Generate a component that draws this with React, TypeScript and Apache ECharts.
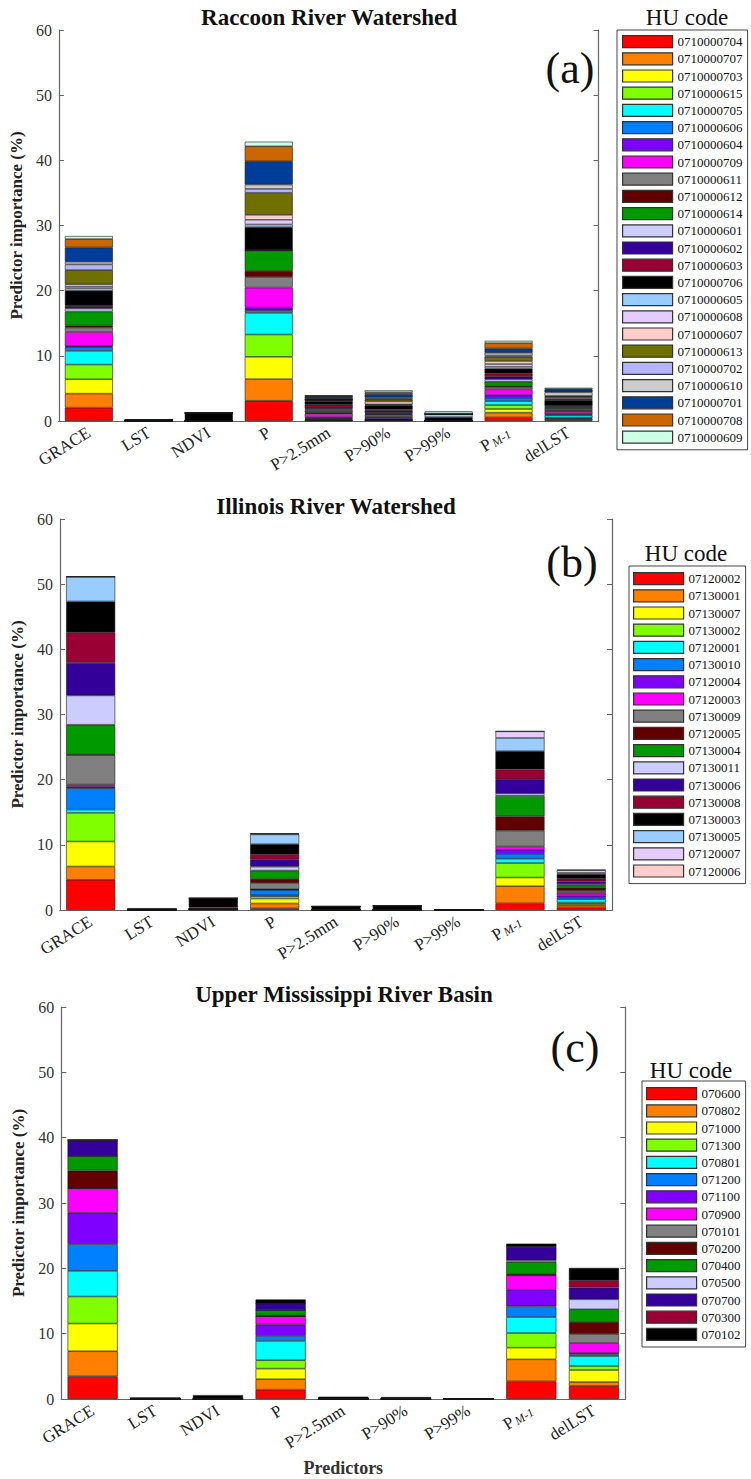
import React, { useEffect, useRef } from "react";
import * as echarts from "echarts";

const FONT = "Liberation Serif";

const CATEGORIES = ["GRACE", "LST", "NDVI", "P", "P>2.5mm", "P>90%", "P>99%", "PM-1", "delLST"];
const Y_TICKS_MAX = 60;

// ---------- Panel (a) Raccoon River Watershed ----------
const CODES_A = [
  "0710000704", "0710000707", "0710000703", "0710000615", "0710000705", "0710000606",
  "0710000604", "0710000709", "0710000611", "0710000612", "0710000614", "0710000601",
  "0710000602", "0710000603", "0710000706", "0710000605", "0710000608", "0710000607",
  "0710000613", "0710000702", "0710000610", "0710000701", "0710000708", "0710000609",
];
const A_GRACE = [2.05, 2.15, 2.2, 2.26, 2.1, 0.56, 0.15, 2.2, 0.67, 0.31, 2.15, 0.46, 0.36, 0.1, 2.26, 0.36, 0.26, 0.36, 2.2, 0.87, 0.41, 2.2, 1.28, 0.46];
const A_LST = [0, 0, 0, 0, 0, 0, 0, 0, 0.03, 0, 0, 0, 0, 0, 0.1, 0, 0, 0, 0, 0, 0.03, 0.04, 0, 0];
const A_NDVI = [0, 0, 0, 0, 0, 0, 0, 0, 0, 0, 0, 0, 0, 0, 1.2, 0, 0, 0, 0, 0, 0.05, 0.05, 0, 0];
const A_P = [3.11, 3.32, 3.42, 3.42, 3.32, 0.41, 0.41, 3.06, 1.63, 0.92, 3.16, 0.04, 0.03, 0.03, 3.47, 0.41, 0.71, 0.77, 3.37, 0.61, 0.66, 3.57, 2.3, 0.71];
const A_P25 = [0.05, 0.05, 0.05, 0.1, 0.1, 0.1, 0.15, 0.5, 0.1, 0.1, 0.3, 0.15, 0.2, 0.55, 0.55, 0.1, 0.05, 0.05, 0.05, 0.05, 0.05, 0.4, 0.05, 0.05];
const A_P90 = [0.05, 0.05, 0.05, 0.05, 0.05, 0.1, 0.2, 0.1, 0.3, 0.1, 0.1, 0.1, 0.35, 0.15, 0.6, 0.1, 0.1, 0.45, 0.3, 0.1, 0.2, 0.5, 0.3, 0.3];
const A_P99 = [0, 0, 0, 0, 0, 0, 0, 0, 0, 0, 0, 0, 0.05, 0, 0.55, 0.45, 0, 0, 0, 0, 0.05, 0.05, 0, 0.35];
const A_PM1 = [0.56, 0.72, 0.56, 0.61, 0.61, 0.51, 0.41, 0.87, 0.36, 0.2, 0.61, 0.36, 0.41, 0.51, 0.72, 0.31, 0.41, 0.46, 0.66, 0.2, 0.41, 0.66, 0.82, 0.36];
const A_DEL = [0.1, 0.2, 0.1, 0.1, 0.35, 0.15, 0.1, 0.3, 0.15, 0.15, 0.25, 0.1, 0.15, 0.1, 0.9, 0.1, 0.1, 0.25, 0.1, 0.1, 0.55, 0.4, 0.1, 0.2];
const PANEL_A = [A_GRACE, A_LST, A_NDVI, A_P, A_P25, A_P90, A_P99, A_PM1, A_DEL];

// ---------- Panel (b) Illinois River Watershed ----------
const CODES_B = [
  "07120002", "07130001", "07130007", "07130002", "07120001", "07130010",
  "07120004", "07120003", "07130009", "07120005", "07130004", "07130011",
  "07130006", "07130008", "07130003", "07130005", "07120007", "07120006",
];
const B_GRACE = [4.64, 2.04, 3.83, 4.39, 0.51, 3.27, 0.26, 0.31, 4.54, 0.05, 4.59, 4.49, 5.0, 4.69, 4.74, 3.8, 0, 0];
const B_LST = [0, 0, 0, 0, 0, 0, 0, 0, 0.03, 0.03, 0, 0, 0, 0, 0.09, 0, 0, 0];
const B_NDVI = [0, 0.1, 0, 0, 0, 0, 0, 0, 0, 0.1, 0, 0, 0, 0.2, 1.4, 0, 0, 0];
const B_P = [0.25, 0.75, 0.75, 0.35, 0.15, 0.85, 0.05, 0.05, 0.95, 0.6, 1.3, 0.6, 1.1, 0.8, 1.55, 1.5, 0.1, 0.05];
const B_P25 = [0, 0, 0, 0, 0, 0, 0, 0, 0, 0, 0, 0, 0.05, 0, 0.5, 0, 0, 0];
const B_P90 = [0, 0, 0, 0, 0, 0, 0, 0, 0, 0, 0, 0, 0.05, 0, 0.6, 0, 0, 0];
const B_P99 = [0, 0, 0, 0, 0, 0, 0, 0, 0, 0, 0, 0, 0, 0, 0.05, 0, 0, 0];
const B_PM1 = [1.02, 2.64, 1.32, 2.23, 0.66, 0.76, 0.61, 0.51, 2.44, 2.18, 3.15, 0.36, 2.18, 1.52, 2.79, 2.03, 1.02, 0];
const B_DEL = [0.4, 0.35, 0.2, 0.2, 0.5, 0.3, 0.3, 0.4, 0.3, 0.5, 0.35, 0.2, 0.4, 0.4, 0.7, 0.2, 0.4, 0.1];
const PANEL_B = [B_GRACE, B_LST, B_NDVI, B_P, B_P25, B_P90, B_P99, B_PM1, B_DEL];

// ---------- Panel (c) Upper Mississippi River Basin ----------
const CODES_C = [
  "070600", "070802", "071000", "071300", "070801", "071200", "071100", "070900",
  "070101", "070200", "070400", "070500", "070700", "070300", "070102",
];
const C_GRACE = [3.47, 3.84, 4.24, 4.14, 3.93, 4.09, 4.8, 3.73, 0, 2.71, 2.25, 0, 2.45, 0, 0];
const C_LST = [0, 0, 0, 0, 0, 0, 0, 0, 0, 0, 0, 0, 0.05, 0, 0.2];
const C_NDVI = [0, 0, 0, 0, 0, 0, 0, 0, 0, 0, 0, 0, 0.05, 0, 0.55];
const C_P = [1.43, 1.6, 1.62, 1.28, 2.96, 0.77, 1.74, 1.28, 0, 0.1, 0.82, 0, 1.02, 0, 0.61];
const C_P25 = [0, 0, 0, 0, 0, 0, 0, 0, 0, 0, 0, 0, 0.05, 0, 0.3];
const C_P90 = [0, 0, 0, 0, 0, 0, 0, 0, 0, 0, 0, 0, 0.05, 0, 0.25];
const C_P99 = [0, 0, 0, 0, 0, 0, 0, 0, 0, 0, 0, 0, 0, 0, 0.1];
const C_PM1 = [2.7, 3.37, 1.79, 2.24, 2.45, 1.63, 2.55, 2.19, 0.05, 0.2, 1.79, 0.26, 2.04, 0.05, 0.47];
const C_DEL = [1.99, 0.61, 1.84, 0.61, 1.53, 0.25, 0.21, 1.53, 1.38, 1.84, 1.94, 1.53, 1.79, 1.12, 1.89];
const PANEL_C = [C_GRACE, C_LST, C_NDVI, C_P, C_P25, C_P90, C_P99, C_PM1, C_DEL];

// ---------- styles ----------
const COLORS_A = [
  "#FF0000", "#FF8000", "#FFFF00", "#80FF00", "#00FFFF", "#0080FF",
  "#8000FF", "#FF00FF", "#808080", "#600000", "#009900", "#CCCCFF",
  "#330099", "#990033", "#000000", "#99CCFF", "#E5CCFF", "#FFCCCC",
  "#707000", "#B3B3FF", "#CCCCCC", "#003D99", "#CC6600", "#CCFFE5",
];
const COLORS_B = COLORS_A.slice(0, 18);
const COLORS_C = COLORS_A.slice(0, 15);

const PANELS = [
  {
    title: "Raccoon River Watershed", tag: "(a)", codes: CODES_A, colors: COLORS_A, values: PANEL_A,
    grid: { left: 57.5, top: 30, width: 541, height: 391 },
    titlePos: [329, 17], tagPos: [570, 68], huPos: [687, 17],
    legend: { left: 617, top: 30, padding: [5, 5, 6, 5] },
  },
  {
    title: "Illinois River Watershed", tag: "(b)", codes: CODES_B, colors: COLORS_B, values: PANEL_B,
    grid: { left: 60, top: 519, width: 552, height: 391 },
    titlePos: [336, 506], tagPos: [572, 562], huPos: [686, 553],
    legend: { left: 629, top: 566, padding: [6, 5, 6, 4] },
  },
  {
    title: "Upper Mississippi River Basin", tag: "(c)", codes: CODES_C, colors: COLORS_C, values: PANEL_C,
    grid: { left: 61.3, top: 1007, width: 564, height: 392 },
    titlePos: [344, 994], tagPos: [575, 1047], huPos: [691, 1070],
    legend: { left: 642, top: 1081, padding: [6, 5, 6, 4] },
  },
];

const AXIS_COLOR = "#666";

function buildOption() {
  const grid: any[] = [];
  const xAxis: any[] = [];
  const yAxis: any[] = [];
  const series: any[] = [];
  const legend: any[] = [];
  const graphic: any[] = [];

  PANELS.forEach((pan, pi) => {
    grid.push({ ...pan.grid, containLabel: false });
    xAxis.push({
      type: "category",
      gridIndex: pi,
      data: CATEGORIES,
      axisLine: { lineStyle: { color: AXIS_COLOR, width: 1.2 } },
      axisTick: { inside: true, alignWithLabel: true, length: 5, lineStyle: { color: AXIS_COLOR } },
      axisLabel: {
        rotate: 32,
        margin: 10,
        fontFamily: FONT,
        fontSize: 17,
        color: "#222",
        interval: 0,
        formatter: (v: string) => (v === "PM-1" ? "{p|P}{s|M-1}" : v),
        rich: {
          p: { fontFamily: FONT, fontSize: 17, color: "#222" },
          s: { fontFamily: FONT, fontSize: 12, fontStyle: "italic", color: "#222", verticalAlign: "bottom", padding: [0, 0, 0, 2] },
        },
      },
      name: pi === 2 ? "Predictors" : "",
      nameLocation: "middle",
      nameGap: 60,
      nameTextStyle: { fontFamily: FONT, fontWeight: "bold", fontSize: 18, color: "#333" },
    });
    yAxis.push({
      type: "value",
      gridIndex: pi,
      min: 0,
      max: Y_TICKS_MAX,
      interval: 10,
      axisLine: { show: true, lineStyle: { color: AXIS_COLOR, width: 1.2 } },
      axisTick: { show: true, inside: true, length: 5, lineStyle: { color: AXIS_COLOR } },
      splitLine: { show: false },
      axisLabel: { fontFamily: FONT, fontSize: 16, color: "#333", margin: 7 },
      name: "Predictor importance (%)",
      nameLocation: "middle",
      nameGap: 27,
      nameTextStyle: { fontFamily: FONT, fontWeight: "bold", fontSize: 17, color: "#222" },
    });
  });
  PANELS.forEach((pan, pi) => {
    xAxis.push({
      type: "category",
      gridIndex: pi,
      position: "top",
      data: CATEGORIES,
      axisLine: { lineStyle: { color: AXIS_COLOR, width: 1.2 } },
      axisTick: { inside: true, alignWithLabel: true, length: 5, lineStyle: { color: AXIS_COLOR } },
      axisLabel: { show: false },
    });
    yAxis.push({
      type: "value",
      gridIndex: pi,
      position: "right",
      min: 0,
      max: Y_TICKS_MAX,
      interval: 10,
      axisLine: { show: true, lineStyle: { color: AXIS_COLOR, width: 1.2 } },
      axisTick: { show: true, inside: true, length: 5, lineStyle: { color: AXIS_COLOR } },
      splitLine: { show: false },
      axisLabel: { show: false },
    });
  });

  PANELS.forEach((pan, pi) => {
    pan.codes.forEach((code, si) => {
      series.push({
        type: "bar",
        name: code,
        stack: "panel" + pi,
        xAxisIndex: pi,
        yAxisIndex: pi,
        barWidth: "80%",
        data: pan.values.map((stackVals) => stackVals[si]),
        itemStyle: { color: pan.colors[si], borderColor: "#1a1a1a", borderWidth: 0.6 },
        emphasis: { disabled: true },
      });
    });
    legend.push({
      data: pan.codes,
      orient: "vertical",
      left: pan.legend.left,
      top: pan.legend.top,
      padding: pan.legend.padding,
      itemWidth: 50,
      itemHeight: 12,
      itemGap: 4,
      icon: "rect",
      borderColor: "#444",
      borderWidth: 1,
      selectedMode: false,
      textStyle: { fontFamily: "Liberation Serif", fontSize: 13, color: "#111" },
      itemStyle: { borderColor: "#333", borderWidth: 1.2 },
    });
    graphic.push({
      type: "text",
      x: pan.titlePos[0],
      y: pan.titlePos[1],
      style: {
        text: pan.title, font: `bold 23px ${FONT}`, fill: "#111",
        textAlign: "center", textVerticalAlign: "middle", align: "center", verticalAlign: "middle",
      },
    });
    graphic.push({
      type: "text",
      x: pan.tagPos[0],
      y: pan.tagPos[1],
      style: {
        text: pan.tag, font: `44px ${FONT}`, fill: "#111",
        textAlign: "center", textVerticalAlign: "middle", align: "center", verticalAlign: "middle",
      },
    });
    graphic.push({
      type: "text",
      x: pan.huPos[0],
      y: pan.huPos[1],
      style: {
        text: "HU code", font: `23px ${FONT}`, fill: "#111",
        textAlign: "center", textVerticalAlign: "middle", align: "center", verticalAlign: "middle",
      },
    });
  });

  return {
    animation: false,
    backgroundColor: "#fff",
    grid,
    xAxis,
    yAxis,
    series,
    legend,
    graphic,
    tooltip: { show: false },
  };
}

export default function App() {
  const ref = useRef<HTMLDivElement>(null);
  useEffect(() => {
    document.body.style.margin = "0";
    if (!ref.current) return;
    const chart = echarts.init(ref.current, undefined, { renderer: "svg" });
    chart.setOption(buildOption() as any);
    return () => chart.dispose();
  }, []);
  return <div ref={ref} style={{ width: 751, height: 1479 }} />;
}
